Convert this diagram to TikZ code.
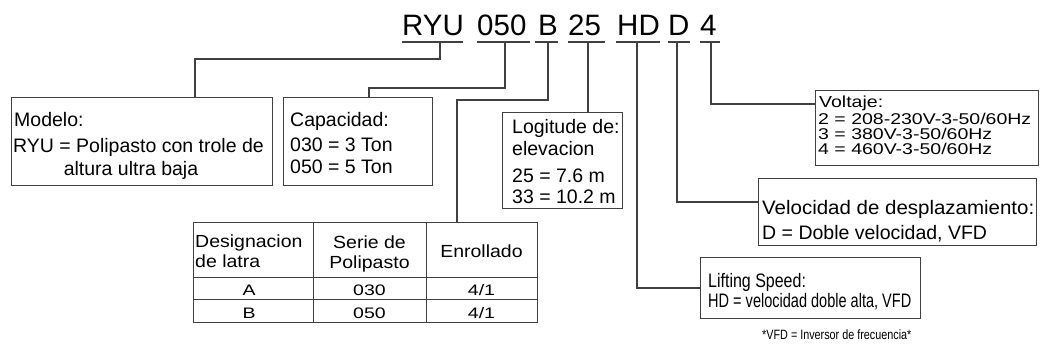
\documentclass[tikz,border=0pt]{standalone}
\usepackage{fontspec}
\setmainfont{Liberation Sans}
\newcommand{\vsq}[2]{\scalebox{1}[#1]{#2}}
\newcommand{\hsq}[2]{\scalebox{#1}[1]{#2}}
\begin{document}
\begin{tikzpicture}[x=1pt,y=-1pt,
  ln/.style={draw=black!75, line width=1.1pt},
  box/.style={draw=black!75, line width=1pt, anchor=north west, inner sep=0pt},
  code/.style={font=\fontsize{29.5}{29}\selectfont, anchor=base west, inner sep=0pt},
  txt/.style={font=\fontsize{19.5}{22}\selectfont, anchor=base west, inner sep=0pt},
  ctxt/.style={font=\fontsize{19.5}{22}\selectfont, anchor=base, inner sep=0pt},
  note/.style={font=\fontsize{13.5}{14}\selectfont, anchor=base west, inner sep=0pt}]
\useasboundingbox[fill=white] (0,0) rectangle (1040,351);

% code letters
\node[code] (cRYU) at (402,35) {RYU};
\node[code] (c050) at (477,35) {050};
\node[code] (cB)   at (538,35) {B};
\node[code] (c25)  at (568,35) {25};
\node[code] (cHD)  at (617,35) {HD};
\node[code] (cD)   at (668,35) {D};
\node[code] (c4)   at (700,35) {4};

% underlines
\draw[ln] (402,42) -- (463,42);
\draw[ln] (477,42) -- (530,42);
\draw[ln] (535,42) -- (558,42);
\draw[ln] (568,42) -- (605,42);
\draw[ln] (616,42) -- (660,42);
\draw[ln] (668,42) -- (690,42);
\draw[ln] (700,42) -- (720,42);

% tick points
\coordinate (tRYU) at (440,42);
\coordinate (t050) at (505,42);
\coordinate (tB)   at (548,42);
\coordinate (t25)  at (588,42);
\coordinate (tHD)  at (637,42);
\coordinate (tD)   at (677,42);
\coordinate (t4)   at (711,42);

% boxes
\node[box, minimum width=261pt, minimum height=88pt] (modelo) at (11,97) {};
\node[box, minimum width=149pt, minimum height=88pt] (capa) at (283,97) {};
\node[box, minimum width=120pt, minimum height=96pt] (logi) at (502,112) {};
\node[box, minimum width=223pt, minimum height=75pt] (volt) at (815,90) {};
\node[box, minimum width=278pt, minimum height=67pt] (velo) at (758,178) {};
\node[box, minimum width=220pt, minimum height=61pt] (lift) at (700,257) {};
\node[box, minimum width=344pt, minimum height=100pt] (tabla) at (193,222) {};

% table grid
\draw[ln, line width=1pt] (193,277) -- (537,277);
\draw[ln, line width=1pt] (193,299) -- (537,299);
\draw[ln, line width=1pt] (313,222) -- (313,322);
\draw[ln, line width=1pt] (426,222) -- (426,322);

% connector bend coordinates
\coordinate (kRYU) at (195,59);
\coordinate (k050) at (369,88);
\coordinate (kB) at (457,100);

\draw[ln] (tRYU) |- (kRYU) -- (modelo.north -| kRYU);
\draw[ln] (t050) |- (k050) -- (capa.north -| k050);
\draw[ln] (tB) |- (kB) -- (tabla.north -| kB);
\draw[ln] (t25) -- (logi.north -| t25);
\draw[ln] (tHD) |- (lift.west);
\draw[ln] (tD) |- (velo.west |- 0,202);
\draw[ln] (t4) |- (volt.west |- 0,104);

% Modelo
\node[txt] (m1) at (14,126) {Modelo:};
\node[txt] (m2) at (13,152) {RYU = Polipasto con trole de};
\node[ctxt] (m3) at (131,175) {altura ultra baja};

% Capacidad
\node[txt] (p1) at (290,126) {Capacidad:};
\node[txt] (p2) at (290,151) {030 = 3 Ton};
\node[txt] (p3) at (290,173) {050 = 5 Ton};

% Logitude
\node[txt] (l1) at (512,133) {Logitude de:};
\node[txt] (l2) at (512,155) {elevacion};
\node[txt] (l3) at (512,182) {25 = 7.6 m};
\node[txt] (l4) at (512,203) {33 = 10.2 m};

% Voltaje
\node[txt] (v1) at (819,107) {\vsq{0.82}{Voltaje:}};
\node[txt] (v2) at (818,124.5) {\vsq{0.8}{2 = 208-230V-3-50/60Hz}};
\node[txt] (v3) at (818,139.5) {\vsq{0.8}{3 = 380V-3-50/60Hz}};
\node[txt] (v4) at (818,154.5) {\vsq{0.8}{4 = 460V-3-50/60Hz}};

% Velocidad
\node[txt] (d1) at (762,214) {\hsq{1.05}{Velocidad de desplazamiento:}};
\node[txt] (d2) at (762,239) {D = Doble velocidad, VFD};

% Lifting
\node[txt] (h1) at (708,287) {\hsq{0.82}{Lifting Speed:}};
\node[txt] (h2) at (708,307) {\hsq{0.745}{HD = velocidad doble alta, VFD}};

% table text
\node[txt] (t11) at (195,247) {\vsq{0.9}{Designacion}};
\node[txt] (t12) at (195,267) {\vsq{0.9}{de latra}};
\node[ctxt] (t21) at (369.5,248) {\vsq{0.9}{Serie de}};
\node[ctxt] (t22) at (369.5,268) {\vsq{0.9}{Polipasto}};
\node[ctxt] (t31) at (481.5,257) {\vsq{0.9}{Enrollado}};
\node[ctxt] (a1) at (249,295) {\vsq{0.78}{A}};
\node[ctxt] (a2) at (369.5,295) {\vsq{0.78}{030}};
\node[ctxt] (a3) at (481.5,295) {\vsq{0.78}{4/1}};
\node[ctxt] (b1) at (249,318) {\vsq{0.78}{B}};
\node[ctxt] (b2) at (369.5,318) {\vsq{0.78}{050}};
\node[ctxt] (b3) at (481.5,318) {\vsq{0.78}{4/1}};

% footnote
\node[note] (fn) at (762,339) {\hsq{0.8}{*VFD = Inversor de frecuencia*}};
\end{tikzpicture}
\end{document}
